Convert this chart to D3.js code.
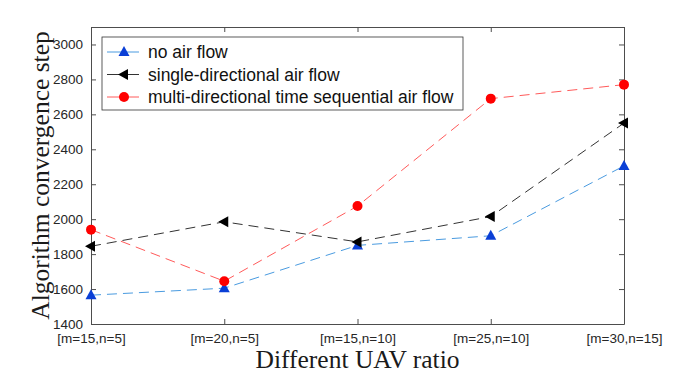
<!DOCTYPE html>
<html>
<head>
<meta charset="utf-8">
<script src="https://cdn.jsdelivr.net/npm/d3@7"></script>
<style>
  body { margin: 0; background: #fff; }
  svg { display: block; }
</style>
</head>
<body>
<div id="chart"></div>
<script>
// categories and series
const categories = ["[m=15,n=5]", "[m=20,n=5]", "[m=15,n=10]", "[m=25,n=10]", "[m=30,n=15]"];
const noAirFlow = [1565, 1605, 1850, 1905, 2305];
const singleFlow = [1845, 1985, 1870, 2015, 2550];
const multiFlow = [1940, 1645, 2075, 2690, 2770];
const yTicks = [1400, 1600, 1800, 2000, 2200, 2400, 2600, 2800, 3000];

const series = [
  {name: "no air flow", values: noAirFlow, line: "#4a9be0", mark: "#0a3fd6", shape: "tri"},
  {name: "single-directional air flow", values: singleFlow, line: "#333", mark: "#000", shape: "left"},
  {name: "multi-directional time sequential air flow", values: multiFlow, line: "#ff5a5a", mark: "#ff0000", shape: "circle"}
];

const W = 680, H = 382;
const margin = {top: 27, right: 56, bottom: 58, left: 91},
    width = W - margin.left - margin.right,
    height = H - margin.top - margin.bottom;

const svg = d3.select("#chart")
  .append("svg")
    .attr("width", W)
    .attr("height", H)
    .style("font-family", "'Liberation Sans', Arial, sans-serif");

const g = svg.append("g")
    .attr("transform", `translate(${margin.left},${margin.top})`);

const x = d3.scalePoint()
  .domain(categories)
  .range([0, width]);

const y = d3.scaleLinear()
  .domain([1400, 3100])
  .range([height, 0]);

const axisColor = "#4d4d4d";

// axes (ticks pointing inwards, matlab style)
const xAxis = g.append("g")
  .attr("transform", `translate(0,${height})`)
  .call(d3.axisBottom(x).tickSizeInner(-5).tickSizeOuter(0).tickPadding(9));
const xTop = g.append("g")
  .call(d3.axisTop(x).tickSizeInner(-5).tickSizeOuter(0).tickFormat(""));
const yAxis = g.append("g")
  .call(d3.axisLeft(y).tickValues(yTicks).tickFormat(d3.format("d")).tickSizeInner(-5).tickSizeOuter(0).tickPadding(8));
const yRight = g.append("g")
  .attr("transform", `translate(${width},0)`)
  .call(d3.axisRight(y).tickValues(yTicks).tickSizeInner(-5).tickSizeOuter(0).tickFormat(""));

[xAxis, xTop, yAxis, yRight].forEach(a => {
  a.attr("font-size", null).attr("font-family", null);
  a.selectAll("path").attr("stroke", axisColor);
  a.selectAll("line").attr("stroke", axisColor);
  a.selectAll("text")
    .attr("fill", "#262626")
    .style("font-size", "13.5px");
});

// lines
const line = d3.line()
  .x((d, i) => x(categories[i]))
  .y(d => y(d));

series.forEach(s => {
  g.append("path")
    .datum(s.values)
    .attr("fill", "none")
    .attr("stroke", s.line)
    .attr("stroke-width", 1)
    .attr("stroke-dasharray", "10,6")
    .attr("d", line);
});

function drawMarker(sel, shape, color) {
  if (shape === "circle") {
    sel.append("circle").attr("r", 5).attr("fill", color);
  } else if (shape === "tri") {
    sel.append("path").attr("d", "M0,-6L5.5,4L-5.5,4Z").attr("fill", color);
  } else {
    sel.append("path").attr("d", "M-6,0L4,-5.5L4,5.5Z").attr("fill", color);
  }
}

// markers
series.forEach(s => {
  s.values.forEach((v, i) => {
    const m = g.append("g")
      .attr("transform", `translate(${x(categories[i])},${y(v)})`);
    drawMarker(m, s.shape, s.mark);
  });
});

// legend
const legend = svg.append("g").attr("transform", "translate(102,37)");
legend.append("rect")
  .attr("width", 361).attr("height", 73)
  .attr("fill", "#fff")
  .attr("stroke", "#333")
  .attr("stroke-width", 0.8);

const legendRow = legend.selectAll(".lineLegend").data(series)
  .enter().append("g")
  .attr("class", "lineLegend")
  .attr("transform", (d, i) => `translate(0,${15 + i * 22.5})`);

legendRow.append("line")
  .attr("x1", 5).attr("x2", 37)
  .attr("stroke", d => d.line);
legendRow.each(function(d) {
  drawMarker(d3.select(this).append("g").attr("transform", "translate(22,0)"), d.shape, d.mark);
});
legendRow.append("text")
  .text(d => d.name)
  .attr("x", 46)
  .attr("dy", "0.35em")
  .attr("fill", "#111")
  .style("font-size", "17.5px");

// axis titles
svg.append("text")
  .attr("x", margin.left + width / 2)
  .attr("y", 368)
  .attr("text-anchor", "middle")
  .style("font-family", "'Liberation Serif', 'Times New Roman', serif")
  .style("font-size", "25.5px")
  .attr("fill", "#1a1a1a")
  .text("Different UAV ratio");

svg.append("text")
  .attr("transform", `translate(49,${margin.top + height / 2}) rotate(-90)`)
  .attr("text-anchor", "middle")
  .style("font-family", "'Liberation Serif', 'Times New Roman', serif")
  .style("font-size", "25.5px")
  .attr("fill", "#1a1a1a")
  .text("Algorithm convergence step");
</script>
</body>
</html>
